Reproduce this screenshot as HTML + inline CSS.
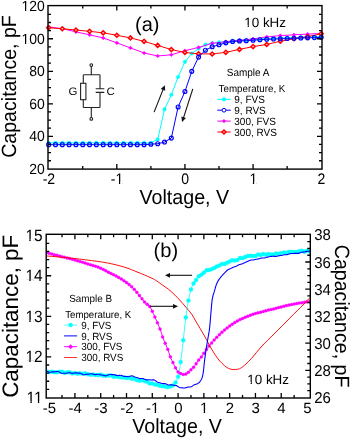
<!DOCTYPE html><html><head><meta charset="utf-8"><style>html,body{margin:0;padding:0;background:#fff;width:350px;height:438px;overflow:hidden}svg{display:block;will-change:transform;text-rendering:geometricPrecision}</style></head><body>
<svg width="350" height="438" viewBox="0 0 350 438" font-family='"Liberation Sans", sans-serif'>
<rect width="350" height="438" fill="#fff"/>
<g clip-path="url(#clipT)">
<defs><clipPath id="clipT"><rect x="45.0" y="2.5999999999999996" width="280.0" height="169.5"/></clipPath><clipPath id="clipB"><rect x="46.2" y="234.3" width="264.1" height="163.7"/></clipPath></defs>
<polyline points="48.67,142.87 55.48,142.87 62.3,142.87 69.11,142.87 75.93,142.87 82.74,142.87 89.55,142.87 96.37,142.87 103.18,142.87 109.99,142.87 116.81,142.87 123.62,142.87 130.44,142.87 137.25,142.87 144.06,142.87 150.88,142.87 157.69,139.42 164.5,109.41 171.32,94.82 178.13,76.94 184.94,61.85 191.76,53.49 198.57,48.57 205.39,44.63 212.2,43.16 219.01,42.34 225.83,42.09 232.64,40.78 239.45,40.29 246.27,39.96 253.08,39.47 259.9,38.97 266.71,38.56 273.52,38.32 280.34,38.07 287.15,37.83 293.96,37.58 300.78,37.33 307.59,37.09 314.41,36.84 321.22,36.6" fill="none" stroke="#00FFFF" stroke-width="1.0" stroke-linejoin="round"/>
<circle cx="48.67" cy="142.87" r="1.8" fill="#00FFFF" stroke="#00FFFF" stroke-width="0.4"/>
<circle cx="55.48" cy="142.87" r="1.8" fill="#00FFFF" stroke="#00FFFF" stroke-width="0.4"/>
<circle cx="62.3" cy="142.87" r="1.8" fill="#00FFFF" stroke="#00FFFF" stroke-width="0.4"/>
<circle cx="69.11" cy="142.87" r="1.8" fill="#00FFFF" stroke="#00FFFF" stroke-width="0.4"/>
<circle cx="75.93" cy="142.87" r="1.8" fill="#00FFFF" stroke="#00FFFF" stroke-width="0.4"/>
<circle cx="82.74" cy="142.87" r="1.8" fill="#00FFFF" stroke="#00FFFF" stroke-width="0.4"/>
<circle cx="89.55" cy="142.87" r="1.8" fill="#00FFFF" stroke="#00FFFF" stroke-width="0.4"/>
<circle cx="96.37" cy="142.87" r="1.8" fill="#00FFFF" stroke="#00FFFF" stroke-width="0.4"/>
<circle cx="103.18" cy="142.87" r="1.8" fill="#00FFFF" stroke="#00FFFF" stroke-width="0.4"/>
<circle cx="109.99" cy="142.87" r="1.8" fill="#00FFFF" stroke="#00FFFF" stroke-width="0.4"/>
<circle cx="116.81" cy="142.87" r="1.8" fill="#00FFFF" stroke="#00FFFF" stroke-width="0.4"/>
<circle cx="123.62" cy="142.87" r="1.8" fill="#00FFFF" stroke="#00FFFF" stroke-width="0.4"/>
<circle cx="130.44" cy="142.87" r="1.8" fill="#00FFFF" stroke="#00FFFF" stroke-width="0.4"/>
<circle cx="137.25" cy="142.87" r="1.8" fill="#00FFFF" stroke="#00FFFF" stroke-width="0.4"/>
<circle cx="144.06" cy="142.87" r="1.8" fill="#00FFFF" stroke="#00FFFF" stroke-width="0.4"/>
<circle cx="150.88" cy="142.87" r="1.8" fill="#00FFFF" stroke="#00FFFF" stroke-width="0.4"/>
<circle cx="157.69" cy="139.42" r="1.8" fill="#00FFFF" stroke="#00FFFF" stroke-width="0.4"/>
<circle cx="164.5" cy="109.41" r="1.8" fill="#00FFFF" stroke="#00FFFF" stroke-width="0.4"/>
<circle cx="171.32" cy="94.82" r="1.8" fill="#00FFFF" stroke="#00FFFF" stroke-width="0.4"/>
<circle cx="178.13" cy="76.94" r="1.8" fill="#00FFFF" stroke="#00FFFF" stroke-width="0.4"/>
<circle cx="184.94" cy="61.85" r="1.8" fill="#00FFFF" stroke="#00FFFF" stroke-width="0.4"/>
<circle cx="191.76" cy="53.49" r="1.8" fill="#00FFFF" stroke="#00FFFF" stroke-width="0.4"/>
<circle cx="198.57" cy="48.57" r="1.8" fill="#00FFFF" stroke="#00FFFF" stroke-width="0.4"/>
<circle cx="205.39" cy="44.63" r="1.8" fill="#00FFFF" stroke="#00FFFF" stroke-width="0.4"/>
<circle cx="212.2" cy="43.16" r="1.8" fill="#00FFFF" stroke="#00FFFF" stroke-width="0.4"/>
<circle cx="219.01" cy="42.34" r="1.8" fill="#00FFFF" stroke="#00FFFF" stroke-width="0.4"/>
<circle cx="225.83" cy="42.09" r="1.8" fill="#00FFFF" stroke="#00FFFF" stroke-width="0.4"/>
<circle cx="232.64" cy="40.78" r="1.8" fill="#00FFFF" stroke="#00FFFF" stroke-width="0.4"/>
<circle cx="239.45" cy="40.29" r="1.8" fill="#00FFFF" stroke="#00FFFF" stroke-width="0.4"/>
<circle cx="246.27" cy="39.96" r="1.8" fill="#00FFFF" stroke="#00FFFF" stroke-width="0.4"/>
<circle cx="253.08" cy="39.47" r="1.8" fill="#00FFFF" stroke="#00FFFF" stroke-width="0.4"/>
<circle cx="259.9" cy="38.97" r="1.8" fill="#00FFFF" stroke="#00FFFF" stroke-width="0.4"/>
<circle cx="266.71" cy="38.56" r="1.8" fill="#00FFFF" stroke="#00FFFF" stroke-width="0.4"/>
<circle cx="273.52" cy="38.32" r="1.8" fill="#00FFFF" stroke="#00FFFF" stroke-width="0.4"/>
<circle cx="280.34" cy="38.07" r="1.8" fill="#00FFFF" stroke="#00FFFF" stroke-width="0.4"/>
<circle cx="287.15" cy="37.83" r="1.8" fill="#00FFFF" stroke="#00FFFF" stroke-width="0.4"/>
<circle cx="293.96" cy="37.58" r="1.8" fill="#00FFFF" stroke="#00FFFF" stroke-width="0.4"/>
<circle cx="300.78" cy="37.33" r="1.8" fill="#00FFFF" stroke="#00FFFF" stroke-width="0.4"/>
<circle cx="307.59" cy="37.09" r="1.8" fill="#00FFFF" stroke="#00FFFF" stroke-width="0.4"/>
<circle cx="314.41" cy="36.84" r="1.8" fill="#00FFFF" stroke="#00FFFF" stroke-width="0.4"/>
<circle cx="321.22" cy="36.6" r="1.8" fill="#00FFFF" stroke="#00FFFF" stroke-width="0.4"/>
<polyline points="48.67,26.92 62.3,28.72 75.93,31.84 89.55,34.79 103.18,37.91 116.81,42.83 130.44,47.91 144.06,53 157.69,55.95 171.32,54.8 184.94,50.7 198.57,47.42 212.2,43.32 225.83,41.68 239.45,40.37 253.08,38.89 266.71,36.92 280.34,35.61 293.96,34.79 307.59,34.14 321.22,33.48" fill="none" stroke="#FF00FF" stroke-width="1.0" stroke-linejoin="round"/>
<path d="M48.67,25.12L50.47,26.92L48.67,28.72L46.87,26.92Z" fill="#FF00FF" stroke="#FF00FF" stroke-width="0.5"/>
<path d="M62.3,26.92L64.1,28.72L62.3,30.52L60.5,28.72Z" fill="#FF00FF" stroke="#FF00FF" stroke-width="0.5"/>
<path d="M75.93,30.04L77.73,31.84L75.93,33.64L74.13,31.84Z" fill="#FF00FF" stroke="#FF00FF" stroke-width="0.5"/>
<path d="M89.55,32.99L91.35,34.79L89.55,36.59L87.75,34.79Z" fill="#FF00FF" stroke="#FF00FF" stroke-width="0.5"/>
<path d="M103.18,36.11L104.98,37.91L103.18,39.71L101.38,37.91Z" fill="#FF00FF" stroke="#FF00FF" stroke-width="0.5"/>
<path d="M116.81,41.03L118.61,42.83L116.81,44.63L115.01,42.83Z" fill="#FF00FF" stroke="#FF00FF" stroke-width="0.5"/>
<path d="M130.44,46.11L132.24,47.91L130.44,49.71L128.64,47.91Z" fill="#FF00FF" stroke="#FF00FF" stroke-width="0.5"/>
<path d="M144.06,51.2L145.86,53L144.06,54.8L142.26,53Z" fill="#FF00FF" stroke="#FF00FF" stroke-width="0.5"/>
<path d="M157.69,54.15L159.49,55.95L157.69,57.75L155.89,55.95Z" fill="#FF00FF" stroke="#FF00FF" stroke-width="0.5"/>
<path d="M171.32,53L173.12,54.8L171.32,56.6L169.52,54.8Z" fill="#FF00FF" stroke="#FF00FF" stroke-width="0.5"/>
<path d="M184.94,48.9L186.75,50.7L184.94,52.5L183.14,50.7Z" fill="#FF00FF" stroke="#FF00FF" stroke-width="0.5"/>
<path d="M198.57,45.62L200.37,47.42L198.57,49.22L196.77,47.42Z" fill="#FF00FF" stroke="#FF00FF" stroke-width="0.5"/>
<path d="M212.2,41.52L214,43.32L212.2,45.12L210.4,43.32Z" fill="#FF00FF" stroke="#FF00FF" stroke-width="0.5"/>
<path d="M225.83,39.88L227.63,41.68L225.83,43.48L224.03,41.68Z" fill="#FF00FF" stroke="#FF00FF" stroke-width="0.5"/>
<path d="M239.45,38.57L241.25,40.37L239.45,42.17L237.65,40.37Z" fill="#FF00FF" stroke="#FF00FF" stroke-width="0.5"/>
<path d="M253.08,37.09L254.88,38.89L253.08,40.69L251.28,38.89Z" fill="#FF00FF" stroke="#FF00FF" stroke-width="0.5"/>
<path d="M266.71,35.12L268.51,36.92L266.71,38.72L264.91,36.92Z" fill="#FF00FF" stroke="#FF00FF" stroke-width="0.5"/>
<path d="M280.34,33.81L282.14,35.61L280.34,37.41L278.54,35.61Z" fill="#FF00FF" stroke="#FF00FF" stroke-width="0.5"/>
<path d="M293.96,32.99L295.76,34.79L293.96,36.59L292.16,34.79Z" fill="#FF00FF" stroke="#FF00FF" stroke-width="0.5"/>
<path d="M307.59,32.34L309.39,34.14L307.59,35.94L305.79,34.14Z" fill="#FF00FF" stroke="#FF00FF" stroke-width="0.5"/>
<path d="M321.22,31.68L323.02,33.48L321.22,35.28L319.42,33.48Z" fill="#FF00FF" stroke="#FF00FF" stroke-width="0.5"/>
<polyline points="48.67,27.74 62.3,28.72 75.93,30.04 89.55,31.35 103.18,32.82 116.81,35.28 130.44,37.91 144.06,41.35 157.69,45.45 171.32,49.55 184.94,52.5 198.57,53.82 212.2,53.98 225.83,52.34 239.45,49.39 253.08,46.6 266.71,44.47 280.34,41.19 293.96,38.73 307.59,36.6 321.22,33.81" fill="none" stroke="#FF0000" stroke-width="1.0" stroke-linejoin="round"/>
<path d="M48.67,25.64L50.77,27.74L48.67,29.84L46.57,27.74Z" fill="#ffb0b0" stroke="#FF0000" stroke-width="1.4"/>
<path d="M62.3,26.62L64.4,28.72L62.3,30.82L60.2,28.72Z" fill="#ffb0b0" stroke="#FF0000" stroke-width="1.4"/>
<path d="M75.93,27.94L78.03,30.04L75.93,32.14L73.83,30.04Z" fill="#ffb0b0" stroke="#FF0000" stroke-width="1.4"/>
<path d="M89.55,29.25L91.65,31.35L89.55,33.45L87.45,31.35Z" fill="#ffb0b0" stroke="#FF0000" stroke-width="1.4"/>
<path d="M103.18,30.72L105.28,32.82L103.18,34.92L101.08,32.82Z" fill="#ffb0b0" stroke="#FF0000" stroke-width="1.4"/>
<path d="M116.81,33.18L118.91,35.28L116.81,37.38L114.71,35.28Z" fill="#ffb0b0" stroke="#FF0000" stroke-width="1.4"/>
<path d="M130.44,35.81L132.54,37.91L130.44,40.01L128.34,37.91Z" fill="#ffb0b0" stroke="#FF0000" stroke-width="1.4"/>
<path d="M144.06,39.25L146.16,41.35L144.06,43.45L141.96,41.35Z" fill="#ffb0b0" stroke="#FF0000" stroke-width="1.4"/>
<path d="M157.69,43.35L159.79,45.45L157.69,47.55L155.59,45.45Z" fill="#ffb0b0" stroke="#FF0000" stroke-width="1.4"/>
<path d="M171.32,47.45L173.42,49.55L171.32,51.65L169.22,49.55Z" fill="#ffb0b0" stroke="#FF0000" stroke-width="1.4"/>
<path d="M184.94,50.4L187.04,52.5L184.94,54.6L182.84,52.5Z" fill="#ffb0b0" stroke="#FF0000" stroke-width="1.4"/>
<path d="M198.57,51.72L200.67,53.82L198.57,55.92L196.47,53.82Z" fill="#ffb0b0" stroke="#FF0000" stroke-width="1.4"/>
<path d="M212.2,51.88L214.3,53.98L212.2,56.08L210.1,53.98Z" fill="#ffb0b0" stroke="#FF0000" stroke-width="1.4"/>
<path d="M225.83,50.24L227.93,52.34L225.83,54.44L223.73,52.34Z" fill="#ffb0b0" stroke="#FF0000" stroke-width="1.4"/>
<path d="M239.45,47.29L241.55,49.39L239.45,51.49L237.35,49.39Z" fill="#ffb0b0" stroke="#FF0000" stroke-width="1.4"/>
<path d="M253.08,44.5L255.18,46.6L253.08,48.7L250.98,46.6Z" fill="#ffb0b0" stroke="#FF0000" stroke-width="1.4"/>
<path d="M266.71,42.37L268.81,44.47L266.71,46.57L264.61,44.47Z" fill="#ffb0b0" stroke="#FF0000" stroke-width="1.4"/>
<path d="M280.34,39.09L282.44,41.19L280.34,43.29L278.24,41.19Z" fill="#ffb0b0" stroke="#FF0000" stroke-width="1.4"/>
<path d="M293.96,36.63L296.06,38.73L293.96,40.83L291.86,38.73Z" fill="#ffb0b0" stroke="#FF0000" stroke-width="1.4"/>
<path d="M307.59,34.5L309.69,36.6L307.59,38.7L305.49,36.6Z" fill="#ffb0b0" stroke="#FF0000" stroke-width="1.4"/>
<path d="M321.22,31.71L323.32,33.81L321.22,35.91L319.12,33.81Z" fill="#ffb0b0" stroke="#FF0000" stroke-width="1.4"/>
<polyline points="48.67,144.67 55.48,144.67 62.3,144.67 69.11,144.67 75.93,144.67 82.74,144.67 89.55,144.67 96.37,144.67 103.18,144.67 109.99,144.67 116.81,144.67 123.62,144.67 130.44,144.67 137.25,144.67 144.06,144.67 150.88,144.18 157.69,143.69 164.5,142.05 171.32,138.11 178.13,106.95 184.94,91.54 191.76,71.36 198.57,57.1 205.39,50.21 212.2,46.76 219.01,44.8 225.83,42.83 232.64,41.52 239.45,41.02 246.27,40.7 253.08,40.2 259.9,39.71 266.71,39.3 273.52,39.06 280.34,38.81 287.15,38.56 293.96,38.32 300.78,38.07 307.59,37.83 314.41,37.58 321.22,37.33" fill="none" stroke="#0000FF" stroke-width="1.0" stroke-linejoin="round"/>
<circle cx="48.67" cy="144.67" r="1.95" fill="none" stroke="#0000FF" stroke-width="1.2"/>
<circle cx="55.48" cy="144.67" r="1.95" fill="none" stroke="#0000FF" stroke-width="1.2"/>
<circle cx="62.3" cy="144.67" r="1.95" fill="none" stroke="#0000FF" stroke-width="1.2"/>
<circle cx="69.11" cy="144.67" r="1.95" fill="none" stroke="#0000FF" stroke-width="1.2"/>
<circle cx="75.93" cy="144.67" r="1.95" fill="none" stroke="#0000FF" stroke-width="1.2"/>
<circle cx="82.74" cy="144.67" r="1.95" fill="none" stroke="#0000FF" stroke-width="1.2"/>
<circle cx="89.55" cy="144.67" r="1.95" fill="none" stroke="#0000FF" stroke-width="1.2"/>
<circle cx="96.37" cy="144.67" r="1.95" fill="none" stroke="#0000FF" stroke-width="1.2"/>
<circle cx="103.18" cy="144.67" r="1.95" fill="none" stroke="#0000FF" stroke-width="1.2"/>
<circle cx="109.99" cy="144.67" r="1.95" fill="none" stroke="#0000FF" stroke-width="1.2"/>
<circle cx="116.81" cy="144.67" r="1.95" fill="none" stroke="#0000FF" stroke-width="1.2"/>
<circle cx="123.62" cy="144.67" r="1.95" fill="none" stroke="#0000FF" stroke-width="1.2"/>
<circle cx="130.44" cy="144.67" r="1.95" fill="none" stroke="#0000FF" stroke-width="1.2"/>
<circle cx="137.25" cy="144.67" r="1.95" fill="none" stroke="#0000FF" stroke-width="1.2"/>
<circle cx="144.06" cy="144.67" r="1.95" fill="none" stroke="#0000FF" stroke-width="1.2"/>
<circle cx="150.88" cy="144.18" r="1.95" fill="none" stroke="#0000FF" stroke-width="1.2"/>
<circle cx="157.69" cy="143.69" r="1.95" fill="none" stroke="#0000FF" stroke-width="1.2"/>
<circle cx="164.5" cy="142.05" r="1.95" fill="none" stroke="#0000FF" stroke-width="1.2"/>
<circle cx="171.32" cy="138.11" r="1.95" fill="none" stroke="#0000FF" stroke-width="1.2"/>
<circle cx="178.13" cy="106.95" r="1.95" fill="none" stroke="#0000FF" stroke-width="1.2"/>
<circle cx="184.94" cy="91.54" r="1.95" fill="none" stroke="#0000FF" stroke-width="1.2"/>
<circle cx="191.76" cy="71.36" r="1.95" fill="none" stroke="#0000FF" stroke-width="1.2"/>
<circle cx="198.57" cy="57.1" r="1.95" fill="none" stroke="#0000FF" stroke-width="1.2"/>
<circle cx="205.39" cy="50.21" r="1.95" fill="none" stroke="#0000FF" stroke-width="1.2"/>
<circle cx="212.2" cy="46.76" r="1.95" fill="none" stroke="#0000FF" stroke-width="1.2"/>
<circle cx="219.01" cy="44.8" r="1.95" fill="none" stroke="#0000FF" stroke-width="1.2"/>
<circle cx="225.83" cy="42.83" r="1.95" fill="none" stroke="#0000FF" stroke-width="1.2"/>
<circle cx="232.64" cy="41.52" r="1.95" fill="none" stroke="#0000FF" stroke-width="1.2"/>
<circle cx="239.45" cy="41.02" r="1.95" fill="none" stroke="#0000FF" stroke-width="1.2"/>
<circle cx="246.27" cy="40.7" r="1.95" fill="none" stroke="#0000FF" stroke-width="1.2"/>
<circle cx="253.08" cy="40.2" r="1.95" fill="none" stroke="#0000FF" stroke-width="1.2"/>
<circle cx="259.9" cy="39.71" r="1.95" fill="none" stroke="#0000FF" stroke-width="1.2"/>
<circle cx="266.71" cy="39.3" r="1.95" fill="none" stroke="#0000FF" stroke-width="1.2"/>
<circle cx="273.52" cy="39.06" r="1.95" fill="none" stroke="#0000FF" stroke-width="1.2"/>
<circle cx="280.34" cy="38.81" r="1.95" fill="none" stroke="#0000FF" stroke-width="1.2"/>
<circle cx="287.15" cy="38.56" r="1.95" fill="none" stroke="#0000FF" stroke-width="1.2"/>
<circle cx="293.96" cy="38.32" r="1.95" fill="none" stroke="#0000FF" stroke-width="1.2"/>
<circle cx="300.78" cy="38.07" r="1.95" fill="none" stroke="#0000FF" stroke-width="1.2"/>
<circle cx="307.59" cy="37.83" r="1.95" fill="none" stroke="#0000FF" stroke-width="1.2"/>
<circle cx="314.41" cy="37.58" r="1.95" fill="none" stroke="#0000FF" stroke-width="1.2"/>
<circle cx="321.22" cy="37.33" r="1.95" fill="none" stroke="#0000FF" stroke-width="1.2"/>
</g>
<rect x="48" y="5.6" width="274" height="163.5" fill="none" stroke="#000" stroke-width="1.4"/>
<path d="M82.74,169.1v-3 M82.74,5.6v3 M116.81,169.1v-5 M116.81,5.6v5 M150.88,169.1v-3 M150.88,5.6v3 M184.94,169.1v-5 M184.94,5.6v5 M219.01,169.1v-3 M219.01,5.6v3 M253.08,169.1v-5 M253.08,5.6v5 M287.15,169.1v-3 M287.15,5.6v3 M48,160.73h3 M322,160.73h-3 M48,152.6h3 M322,152.6h-3 M48,144.46h3 M322,144.46h-3 M48,136.33h5 M322,136.33h-5 M48,128.2h3 M322,128.2h-3 M48,120.07h3 M322,120.07h-3 M48,111.94h3 M322,111.94h-3 M48,103.8h5 M322,103.8h-5 M48,95.67h3 M322,95.67h-3 M48,87.54h3 M322,87.54h-3 M48,79.41h3 M322,79.41h-3 M48,71.28h5 M322,71.28h-5 M48,63.14h3 M322,63.14h-3 M48,55.01h3 M322,55.01h-3 M48,46.88h3 M322,46.88h-3 M48,38.75h5 M322,38.75h-5 M48,30.62h3 M322,30.62h-3 M48,22.48h3 M322,22.48h-3 M48,14.35h3 M322,14.35h-3" stroke="#000" stroke-width="1.3" fill="none"/>
<text transform="translate(44.8,173.76) scale(0.95,1)" font-size="14.7" text-anchor="end">20</text>
<text transform="translate(44.8,141.23) scale(0.95,1)" font-size="14.7" text-anchor="end">40</text>
<text transform="translate(44.8,108.7) scale(0.95,1)" font-size="14.7" text-anchor="end">60</text>
<text transform="translate(44.8,76.18) scale(0.95,1)" font-size="14.7" text-anchor="end">80</text>
<g transform="translate(44.8,43.65) scale(0.95,1)"><text font-size="14.7" text-anchor="end">100</text><path d="M-24.38,-1.65H-20.85V1.6H-24.38ZM-19.53,-1.65H-16.77V1.6H-19.53Z" fill="#fff"/></g>
<g transform="translate(44.8,11.12) scale(0.95,1)"><text font-size="14.7" text-anchor="end">120</text><path d="M-24.38,-1.65H-20.85V1.6H-24.38ZM-19.53,-1.65H-16.77V1.6H-19.53Z" fill="#fff"/></g>
<text transform="translate(48.87,183.6) scale(0.92,1)" font-size="15.26" text-anchor="middle">-2</text>
<g transform="translate(117.01,183.6) scale(0.92,1)"><text font-size="15.26" text-anchor="middle">-1</text><path d="M-1.55,-1.69H2.11V1.6H-1.55ZM3.48,-1.69H6.34V1.6H3.48Z" fill="#fff"/></g>
<text transform="translate(185.14,183.6) scale(0.92,1)" font-size="15.26" text-anchor="middle">0</text>
<g transform="translate(253.28,183.6) scale(0.92,1)"><text font-size="15.26" text-anchor="middle">1</text><path d="M-4.09,-1.69H-0.43V1.6H-4.09ZM0.94,-1.69H3.8V1.6H0.94Z" fill="#fff"/></g>
<text transform="translate(321.42,183.6) scale(0.92,1)" font-size="15.26" text-anchor="middle">2</text>
<text transform="translate(184.3,203.9) scale(0.96,1)" font-size="20.49" text-anchor="middle">Voltage, V</text>
<text transform="translate(15.7,86.5) rotate(-90) scale(0.951,1)" font-size="20.6" text-anchor="middle">Capacitance, pF</text>
<text transform="translate(135,30.5) scale(1,1)" font-size="20" text-anchor="start">(a)</text>
<g transform="translate(244.3,26.6) scale(1,1)"><text font-size="13.4" text-anchor="start">10 kHz</text><path d="M0.13,-1.55H3.35V1.6H0.13ZM4.55,-1.55H7.07V1.6H4.55Z" fill="#fff"/></g>
<text transform="translate(226.8,75.5) scale(0.95,1)" font-size="10.5" text-anchor="start">Sample A</text>
<text transform="translate(218.6,92) scale(0.95,1)" font-size="10.29" text-anchor="start">Temperature, K</text>
<line x1="217.3" y1="99.3" x2="230.8" y2="99.3" stroke="#00FFFF" stroke-width="1"/>
<circle cx="224" cy="99.3" r="1.9" fill="#00FFFF" stroke="#00FFFF" stroke-width="0.4"/>
<text transform="translate(234.3,103.2) scale(0.95,1)" font-size="10.5" text-anchor="start">9, FVS</text>
<line x1="217.3" y1="110.2" x2="230.8" y2="110.2" stroke="#0000FF" stroke-width="1"/>
<circle cx="224" cy="110.2" r="1.9" fill="#fff" stroke="#0000FF" stroke-width="1.0"/>
<text transform="translate(234.3,114.1) scale(0.95,1)" font-size="10.5" text-anchor="start">9, RVS</text>
<line x1="217.3" y1="121.1" x2="230.8" y2="121.1" stroke="#FF00FF" stroke-width="1"/>
<path d="M224,119.3L225.8,121.1L224,122.9L222.2,121.1Z" fill="#FF00FF" stroke="#FF00FF" stroke-width="0.4"/>
<text transform="translate(234.3,125) scale(0.95,1)" font-size="10.5" text-anchor="start">300, FVS</text>
<line x1="217.3" y1="132" x2="230.8" y2="132" stroke="#FF0000" stroke-width="1"/>
<path d="M224,129.9L226.1,132L224,134.1L221.9,132Z" fill="#ffb0b0" stroke="#FF0000" stroke-width="1.4"/>
<text transform="translate(234.3,135.9) scale(0.95,1)" font-size="10.5" text-anchor="start">300, RVS</text>
<g stroke="#222" stroke-width="1.1" fill="none">
<circle cx="91.3" cy="65.1" r="1.35" fill="#fff"/>
<path d="M91.3,66.5V74.8M83.3,74.8H100M83.3,74.8V83.3M83.3,99.7V107.5M83.3,107.5H100M100,74.8V88.8M100,92.4V107.5M91.3,107.5V117.5M95.7,88.8H104.3M95.7,92.4H104.3"/>
<rect x="80.6" y="83.3" width="5.3" height="16.4"/>
<circle cx="91.3" cy="118.9" r="1.35" fill="#fff"/>
</g>
<text transform="translate(68.6,95) scale(1.05,1)" font-size="10.92" text-anchor="start">G</text>
<text transform="translate(106.4,95) scale(1.05,1)" font-size="10.92" text-anchor="start">C</text>
<line x1="154.1" y1="112.1" x2="163.14" y2="89.38" stroke="#111" stroke-width="1.1"/>
<path d="M164.8,85.2L165.18,90.73L160.72,88.96Z" fill="#111"/>
<line x1="192.8" y1="88.8" x2="183.48" y2="117.82" stroke="#111" stroke-width="1.1"/>
<path d="M182.1,122.1L181.34,116.61L185.91,118.07Z" fill="#111"/>
<g clip-path="url(#clipB)">
<path d="M47,371.8 C49.17,371.88 55.33,372.1 60,372.3 C64.67,372.5 70,372.68 75,373 C80,373.32 84.17,373.7 90,374.2 C95.83,374.7 103.33,375.37 110,376 C116.67,376.63 123.33,376.83 130,378 C136.67,379.17 145,381.7 150,383 C155,384.3 157.5,385.2 160,385.8 C162.5,386.4 163.33,386.47 165,386.6 C166.67,386.73 168.33,387.23 170,386.6 C171.67,385.97 173.65,384.47 175,382.8 C176.35,381.13 177.15,380.13 178.1,376.6 C179.05,373.07 179.85,367.6 180.7,361.6 C181.55,355.6 182.35,347.93 183.2,340.6 C184.05,333.27 184.93,324.28 185.8,317.6 C186.67,310.92 187.55,305.15 188.4,300.5 C189.25,295.85 190.03,292.57 190.9,289.7 C191.77,286.83 192.67,285.12 193.6,283.3 C194.53,281.48 195.6,280.08 196.5,278.8 C197.4,277.52 197.92,276.57 199,275.6 C200.08,274.63 201.5,273.93 203,273 C204.5,272.07 206.17,270.9 208,270 C209.83,269.1 212,268.43 214,267.6 C216,266.77 218,265.77 220,265 C222,264.23 224,263.67 226,263 C228,262.33 229.67,261.75 232,261 C234.33,260.25 237.33,259.25 240,258.5 C242.67,257.75 244.57,257.12 248,256.5 C251.43,255.88 255.07,255.35 260.6,254.8 C266.13,254.25 274.35,253.75 281.2,253.2 C288.05,252.65 296.9,251.88 301.7,251.5 C306.5,251.12 308.62,251 310,250.9" fill="none" stroke="#00FFFF" stroke-width="0.8"/>
<circle cx="46.56" cy="371.43" r="2" fill="#00FFFF" stroke="#00FFFF" stroke-width="0.3"/>
<circle cx="49.14" cy="371.94" r="2" fill="#00FFFF" stroke="#00FFFF" stroke-width="0.3"/>
<circle cx="51.72" cy="371.79" r="2" fill="#00FFFF" stroke="#00FFFF" stroke-width="0.3"/>
<circle cx="54.3" cy="372.22" r="2" fill="#00FFFF" stroke="#00FFFF" stroke-width="0.3"/>
<circle cx="56.88" cy="372.35" r="2" fill="#00FFFF" stroke="#00FFFF" stroke-width="0.3"/>
<circle cx="59.46" cy="371.67" r="2" fill="#00FFFF" stroke="#00FFFF" stroke-width="0.3"/>
<circle cx="62.03" cy="371.7" r="2" fill="#00FFFF" stroke="#00FFFF" stroke-width="0.3"/>
<circle cx="64.61" cy="372.96" r="2" fill="#00FFFF" stroke="#00FFFF" stroke-width="0.3"/>
<circle cx="67.19" cy="372.26" r="2" fill="#00FFFF" stroke="#00FFFF" stroke-width="0.3"/>
<circle cx="69.77" cy="372.34" r="2" fill="#00FFFF" stroke="#00FFFF" stroke-width="0.3"/>
<circle cx="72.35" cy="373.54" r="2" fill="#00FFFF" stroke="#00FFFF" stroke-width="0.3"/>
<circle cx="74.93" cy="372.95" r="2" fill="#00FFFF" stroke="#00FFFF" stroke-width="0.3"/>
<circle cx="77.51" cy="373.64" r="2" fill="#00FFFF" stroke="#00FFFF" stroke-width="0.3"/>
<circle cx="80.09" cy="373.33" r="2" fill="#00FFFF" stroke="#00FFFF" stroke-width="0.3"/>
<circle cx="82.67" cy="373.77" r="2" fill="#00FFFF" stroke="#00FFFF" stroke-width="0.3"/>
<circle cx="85.24" cy="373.3" r="2" fill="#00FFFF" stroke="#00FFFF" stroke-width="0.3"/>
<circle cx="87.82" cy="374.2" r="2" fill="#00FFFF" stroke="#00FFFF" stroke-width="0.3"/>
<circle cx="90.4" cy="374.75" r="2" fill="#00FFFF" stroke="#00FFFF" stroke-width="0.3"/>
<circle cx="92.98" cy="374.49" r="2" fill="#00FFFF" stroke="#00FFFF" stroke-width="0.3"/>
<circle cx="95.56" cy="375.02" r="2" fill="#00FFFF" stroke="#00FFFF" stroke-width="0.3"/>
<circle cx="98.14" cy="375.15" r="2" fill="#00FFFF" stroke="#00FFFF" stroke-width="0.3"/>
<circle cx="100.72" cy="374.53" r="2" fill="#00FFFF" stroke="#00FFFF" stroke-width="0.3"/>
<circle cx="103.3" cy="375.74" r="2" fill="#00FFFF" stroke="#00FFFF" stroke-width="0.3"/>
<circle cx="105.87" cy="375.74" r="2" fill="#00FFFF" stroke="#00FFFF" stroke-width="0.3"/>
<circle cx="108.45" cy="375.58" r="2" fill="#00FFFF" stroke="#00FFFF" stroke-width="0.3"/>
<circle cx="111.03" cy="375.44" r="2" fill="#00FFFF" stroke="#00FFFF" stroke-width="0.3"/>
<circle cx="113.61" cy="376.82" r="2" fill="#00FFFF" stroke="#00FFFF" stroke-width="0.3"/>
<circle cx="116.19" cy="376.47" r="2" fill="#00FFFF" stroke="#00FFFF" stroke-width="0.3"/>
<circle cx="118.77" cy="377.01" r="2" fill="#00FFFF" stroke="#00FFFF" stroke-width="0.3"/>
<circle cx="121.35" cy="377.45" r="2" fill="#00FFFF" stroke="#00FFFF" stroke-width="0.3"/>
<circle cx="123.93" cy="377.47" r="2" fill="#00FFFF" stroke="#00FFFF" stroke-width="0.3"/>
<circle cx="126.5" cy="378.06" r="2" fill="#00FFFF" stroke="#00FFFF" stroke-width="0.3"/>
<circle cx="129.08" cy="377.7" r="2" fill="#00FFFF" stroke="#00FFFF" stroke-width="0.3"/>
<circle cx="131.66" cy="378.73" r="2" fill="#00FFFF" stroke="#00FFFF" stroke-width="0.3"/>
<circle cx="134.24" cy="378.78" r="2" fill="#00FFFF" stroke="#00FFFF" stroke-width="0.3"/>
<circle cx="136.82" cy="380.08" r="2" fill="#00FFFF" stroke="#00FFFF" stroke-width="0.3"/>
<circle cx="139.4" cy="380.66" r="2" fill="#00FFFF" stroke="#00FFFF" stroke-width="0.3"/>
<circle cx="141.98" cy="380.25" r="2" fill="#00FFFF" stroke="#00FFFF" stroke-width="0.3"/>
<circle cx="144.56" cy="381.01" r="2" fill="#00FFFF" stroke="#00FFFF" stroke-width="0.3"/>
<circle cx="147.14" cy="381.83" r="2" fill="#00FFFF" stroke="#00FFFF" stroke-width="0.3"/>
<circle cx="149.71" cy="383.58" r="2" fill="#00FFFF" stroke="#00FFFF" stroke-width="0.3"/>
<circle cx="152.29" cy="383.53" r="2" fill="#00FFFF" stroke="#00FFFF" stroke-width="0.3"/>
<circle cx="154.87" cy="384.53" r="2" fill="#00FFFF" stroke="#00FFFF" stroke-width="0.3"/>
<circle cx="157.45" cy="384.83" r="2" fill="#00FFFF" stroke="#00FFFF" stroke-width="0.3"/>
<circle cx="160.03" cy="385.82" r="2" fill="#00FFFF" stroke="#00FFFF" stroke-width="0.3"/>
<circle cx="162.61" cy="386.18" r="2" fill="#00FFFF" stroke="#00FFFF" stroke-width="0.3"/>
<circle cx="165.19" cy="386.41" r="2" fill="#00FFFF" stroke="#00FFFF" stroke-width="0.3"/>
<circle cx="167.77" cy="387.02" r="2" fill="#00FFFF" stroke="#00FFFF" stroke-width="0.3"/>
<circle cx="170.34" cy="386.58" r="2" fill="#00FFFF" stroke="#00FFFF" stroke-width="0.3"/>
<circle cx="172.92" cy="385.41" r="2" fill="#00FFFF" stroke="#00FFFF" stroke-width="0.3"/>
<circle cx="175.5" cy="382.43" r="2" fill="#00FFFF" stroke="#00FFFF" stroke-width="0.3"/>
<circle cx="178.08" cy="376.67" r="2" fill="#00FFFF" stroke="#00FFFF" stroke-width="0.3"/>
<circle cx="180.66" cy="361.88" r="2" fill="#00FFFF" stroke="#00FFFF" stroke-width="0.3"/>
<circle cx="183.24" cy="340.26" r="2" fill="#00FFFF" stroke="#00FFFF" stroke-width="0.3"/>
<circle cx="185.82" cy="317.47" r="2" fill="#00FFFF" stroke="#00FFFF" stroke-width="0.3"/>
<circle cx="188.4" cy="300.52" r="2" fill="#00FFFF" stroke="#00FFFF" stroke-width="0.3"/>
<circle cx="190.97" cy="289.46" r="2" fill="#00FFFF" stroke="#00FFFF" stroke-width="0.3"/>
<circle cx="193.55" cy="283.39" r="2" fill="#00FFFF" stroke="#00FFFF" stroke-width="0.3"/>
<circle cx="196.13" cy="279.92" r="2" fill="#00FFFF" stroke="#00FFFF" stroke-width="0.3"/>
<circle cx="198.71" cy="276.37" r="2" fill="#00FFFF" stroke="#00FFFF" stroke-width="0.3"/>
<circle cx="201.29" cy="274.71" r="2" fill="#00FFFF" stroke="#00FFFF" stroke-width="0.3"/>
<circle cx="203.87" cy="272.69" r="2" fill="#00FFFF" stroke="#00FFFF" stroke-width="0.3"/>
<circle cx="206.45" cy="270.37" r="2" fill="#00FFFF" stroke="#00FFFF" stroke-width="0.3"/>
<circle cx="209.03" cy="270.04" r="2" fill="#00FFFF" stroke="#00FFFF" stroke-width="0.3"/>
<circle cx="211.61" cy="269.18" r="2" fill="#00FFFF" stroke="#00FFFF" stroke-width="0.3"/>
<circle cx="214.18" cy="268.09" r="2" fill="#00FFFF" stroke="#00FFFF" stroke-width="0.3"/>
<circle cx="216.76" cy="266.48" r="2" fill="#00FFFF" stroke="#00FFFF" stroke-width="0.3"/>
<circle cx="219.34" cy="265.56" r="2" fill="#00FFFF" stroke="#00FFFF" stroke-width="0.3"/>
<circle cx="221.92" cy="263.91" r="2" fill="#00FFFF" stroke="#00FFFF" stroke-width="0.3"/>
<circle cx="224.5" cy="263.95" r="2" fill="#00FFFF" stroke="#00FFFF" stroke-width="0.3"/>
<circle cx="227.08" cy="262.74" r="2" fill="#00FFFF" stroke="#00FFFF" stroke-width="0.3"/>
<circle cx="229.66" cy="261.47" r="2" fill="#00FFFF" stroke="#00FFFF" stroke-width="0.3"/>
<circle cx="232.24" cy="260.31" r="2" fill="#00FFFF" stroke="#00FFFF" stroke-width="0.3"/>
<circle cx="234.81" cy="260.59" r="2" fill="#00FFFF" stroke="#00FFFF" stroke-width="0.3"/>
<circle cx="237.39" cy="259.96" r="2" fill="#00FFFF" stroke="#00FFFF" stroke-width="0.3"/>
<circle cx="239.97" cy="257.93" r="2" fill="#00FFFF" stroke="#00FFFF" stroke-width="0.3"/>
<circle cx="242.55" cy="258.19" r="2" fill="#00FFFF" stroke="#00FFFF" stroke-width="0.3"/>
<circle cx="245.13" cy="256.97" r="2" fill="#00FFFF" stroke="#00FFFF" stroke-width="0.3"/>
<circle cx="247.71" cy="256.06" r="2" fill="#00FFFF" stroke="#00FFFF" stroke-width="0.3"/>
<circle cx="250.29" cy="255.82" r="2" fill="#00FFFF" stroke="#00FFFF" stroke-width="0.3"/>
<circle cx="252.87" cy="256.09" r="2" fill="#00FFFF" stroke="#00FFFF" stroke-width="0.3"/>
<circle cx="255.44" cy="255.89" r="2" fill="#00FFFF" stroke="#00FFFF" stroke-width="0.3"/>
<circle cx="258.02" cy="254.43" r="2" fill="#00FFFF" stroke="#00FFFF" stroke-width="0.3"/>
<circle cx="260.6" cy="254.96" r="2" fill="#00FFFF" stroke="#00FFFF" stroke-width="0.3"/>
<circle cx="263.18" cy="253.93" r="2" fill="#00FFFF" stroke="#00FFFF" stroke-width="0.3"/>
<circle cx="265.76" cy="254.66" r="2" fill="#00FFFF" stroke="#00FFFF" stroke-width="0.3"/>
<circle cx="268.34" cy="253.92" r="2" fill="#00FFFF" stroke="#00FFFF" stroke-width="0.3"/>
<circle cx="270.92" cy="254.5" r="2" fill="#00FFFF" stroke="#00FFFF" stroke-width="0.3"/>
<circle cx="273.5" cy="254.45" r="2" fill="#00FFFF" stroke="#00FFFF" stroke-width="0.3"/>
<circle cx="276.08" cy="253.6" r="2" fill="#00FFFF" stroke="#00FFFF" stroke-width="0.3"/>
<circle cx="278.65" cy="254.1" r="2" fill="#00FFFF" stroke="#00FFFF" stroke-width="0.3"/>
<circle cx="281.23" cy="252.93" r="2" fill="#00FFFF" stroke="#00FFFF" stroke-width="0.3"/>
<circle cx="283.81" cy="252.4" r="2" fill="#00FFFF" stroke="#00FFFF" stroke-width="0.3"/>
<circle cx="286.39" cy="252.91" r="2" fill="#00FFFF" stroke="#00FFFF" stroke-width="0.3"/>
<circle cx="288.97" cy="251.9" r="2" fill="#00FFFF" stroke="#00FFFF" stroke-width="0.3"/>
<circle cx="291.55" cy="251.92" r="2" fill="#00FFFF" stroke="#00FFFF" stroke-width="0.3"/>
<circle cx="294.13" cy="252" r="2" fill="#00FFFF" stroke="#00FFFF" stroke-width="0.3"/>
<circle cx="296.71" cy="252.07" r="2" fill="#00FFFF" stroke="#00FFFF" stroke-width="0.3"/>
<circle cx="299.28" cy="251.22" r="2" fill="#00FFFF" stroke="#00FFFF" stroke-width="0.3"/>
<circle cx="301.86" cy="250.85" r="2" fill="#00FFFF" stroke="#00FFFF" stroke-width="0.3"/>
<circle cx="304.44" cy="251.8" r="2" fill="#00FFFF" stroke="#00FFFF" stroke-width="0.3"/>
<circle cx="307.02" cy="250.84" r="2" fill="#00FFFF" stroke="#00FFFF" stroke-width="0.3"/>
<circle cx="309.6" cy="251.57" r="2" fill="#00FFFF" stroke="#00FFFF" stroke-width="0.3"/>
<path d="M47,252.6 C48.88,253.12 54.03,254.58 58.3,255.7 C62.57,256.82 67.83,257.98 72.6,259.3 C77.37,260.62 82.57,262.27 86.9,263.6 C91.23,264.93 95.23,265.98 98.6,267.3 C101.97,268.62 104.25,270.08 107.1,271.5 C109.95,272.92 112.83,274.23 115.7,275.8 C118.57,277.37 121.43,278.88 124.3,280.9 C127.17,282.92 130.33,285.42 132.9,287.9 C135.47,290.38 137.7,293.4 139.7,295.8 C141.7,298.2 143.18,300.45 144.9,302.3 C146.62,304.15 148.58,305.02 150,306.9 C151.42,308.78 152.25,311.15 153.4,313.6 C154.55,316.05 155.75,318.93 156.9,321.6 C158.05,324.27 159.28,326.87 160.3,329.6 C161.32,332.33 162.05,335.43 163,338 C163.95,340.57 165.17,343 166,345 C166.83,347 167.27,348 168,350 C168.73,352 169.52,354.78 170.4,357 C171.28,359.22 172.43,361.47 173.3,363.3 C174.17,365.13 174.8,366.57 175.6,368 C176.4,369.43 177.25,370.97 178.1,371.9 C178.95,372.83 179.83,373.18 180.7,373.6 C181.57,374.02 182.43,374.33 183.3,374.4 C184.17,374.47 185.05,374.35 185.9,374 C186.75,373.65 187.55,373.02 188.4,372.3 C189.25,371.58 190.13,370.57 191,369.7 C191.87,368.83 192.75,368.1 193.6,367.1 C194.45,366.1 195.25,364.9 196.1,363.7 C196.95,362.5 197.72,361.18 198.7,359.9 C199.68,358.62 200.87,357.52 202,356 C203.13,354.48 204.35,352.45 205.5,350.8 C206.65,349.15 207.6,347.73 208.9,346.1 C210.2,344.47 211.83,342.63 213.3,341 C214.77,339.37 216.22,337.78 217.7,336.3 C219.18,334.82 220.72,333.43 222.2,332.1 C223.68,330.77 225.13,329.48 226.6,328.3 C228.07,327.12 229.53,326.03 231,325 C232.47,323.97 233.93,322.98 235.4,322.1 C236.87,321.22 238.32,320.43 239.8,319.7 C241.28,318.97 242.82,318.35 244.3,317.7 C245.78,317.05 247.23,316.38 248.7,315.8 C250.17,315.22 251.7,314.67 253.1,314.2 C254.5,313.73 255.77,313.37 257.1,313 C258.43,312.63 259.28,312.47 261.1,312 C262.92,311.53 265.7,310.77 268,310.2 C270.3,309.63 272.52,309.2 274.9,308.6 C277.28,308 279.83,307.22 282.3,306.6 C284.77,305.98 287.23,305.42 289.7,304.9 C292.17,304.38 294.62,303.95 297.1,303.5 C299.58,303.05 302.45,302.53 304.6,302.2 C306.75,301.87 309.1,301.62 310,301.5" fill="none" stroke="#FF00FF" stroke-width="1"/>
<circle cx="46.56" cy="252.6" r="1.5" fill="#FF00FF" stroke="#FF00FF" stroke-width="0.3"/>
<circle cx="49.14" cy="253.2" r="1.5" fill="#FF00FF" stroke="#FF00FF" stroke-width="0.3"/>
<circle cx="51.72" cy="253.91" r="1.5" fill="#FF00FF" stroke="#FF00FF" stroke-width="0.3"/>
<circle cx="54.3" cy="254.63" r="1.5" fill="#FF00FF" stroke="#FF00FF" stroke-width="0.3"/>
<circle cx="56.88" cy="255.32" r="1.5" fill="#FF00FF" stroke="#FF00FF" stroke-width="0.3"/>
<circle cx="59.46" cy="256" r="1.5" fill="#FF00FF" stroke="#FF00FF" stroke-width="0.3"/>
<circle cx="62.03" cy="256.64" r="1.5" fill="#FF00FF" stroke="#FF00FF" stroke-width="0.3"/>
<circle cx="64.61" cy="257.27" r="1.5" fill="#FF00FF" stroke="#FF00FF" stroke-width="0.3"/>
<circle cx="67.19" cy="257.9" r="1.5" fill="#FF00FF" stroke="#FF00FF" stroke-width="0.3"/>
<circle cx="69.77" cy="258.55" r="1.5" fill="#FF00FF" stroke="#FF00FF" stroke-width="0.3"/>
<circle cx="72.35" cy="259.23" r="1.5" fill="#FF00FF" stroke="#FF00FF" stroke-width="0.3"/>
<circle cx="74.93" cy="259.96" r="1.5" fill="#FF00FF" stroke="#FF00FF" stroke-width="0.3"/>
<circle cx="77.51" cy="260.72" r="1.5" fill="#FF00FF" stroke="#FF00FF" stroke-width="0.3"/>
<circle cx="80.09" cy="261.5" r="1.5" fill="#FF00FF" stroke="#FF00FF" stroke-width="0.3"/>
<circle cx="82.67" cy="262.29" r="1.5" fill="#FF00FF" stroke="#FF00FF" stroke-width="0.3"/>
<circle cx="85.24" cy="263.09" r="1.5" fill="#FF00FF" stroke="#FF00FF" stroke-width="0.3"/>
<circle cx="87.82" cy="263.88" r="1.5" fill="#FF00FF" stroke="#FF00FF" stroke-width="0.3"/>
<circle cx="90.4" cy="264.65" r="1.5" fill="#FF00FF" stroke="#FF00FF" stroke-width="0.3"/>
<circle cx="92.98" cy="265.42" r="1.5" fill="#FF00FF" stroke="#FF00FF" stroke-width="0.3"/>
<circle cx="95.56" cy="266.22" r="1.5" fill="#FF00FF" stroke="#FF00FF" stroke-width="0.3"/>
<circle cx="98.14" cy="267.12" r="1.5" fill="#FF00FF" stroke="#FF00FF" stroke-width="0.3"/>
<circle cx="100.72" cy="268.21" r="1.5" fill="#FF00FF" stroke="#FF00FF" stroke-width="0.3"/>
<circle cx="103.3" cy="269.5" r="1.5" fill="#FF00FF" stroke="#FF00FF" stroke-width="0.3"/>
<circle cx="105.87" cy="270.87" r="1.5" fill="#FF00FF" stroke="#FF00FF" stroke-width="0.3"/>
<circle cx="108.45" cy="272.17" r="1.5" fill="#FF00FF" stroke="#FF00FF" stroke-width="0.3"/>
<circle cx="111.03" cy="273.42" r="1.5" fill="#FF00FF" stroke="#FF00FF" stroke-width="0.3"/>
<circle cx="113.61" cy="274.7" r="1.5" fill="#FF00FF" stroke="#FF00FF" stroke-width="0.3"/>
<circle cx="116.19" cy="276.07" r="1.5" fill="#FF00FF" stroke="#FF00FF" stroke-width="0.3"/>
<circle cx="118.77" cy="277.48" r="1.5" fill="#FF00FF" stroke="#FF00FF" stroke-width="0.3"/>
<circle cx="121.35" cy="278.98" r="1.5" fill="#FF00FF" stroke="#FF00FF" stroke-width="0.3"/>
<circle cx="123.93" cy="280.64" r="1.5" fill="#FF00FF" stroke="#FF00FF" stroke-width="0.3"/>
<circle cx="126.5" cy="282.51" r="1.5" fill="#FF00FF" stroke="#FF00FF" stroke-width="0.3"/>
<circle cx="129.08" cy="284.53" r="1.5" fill="#FF00FF" stroke="#FF00FF" stroke-width="0.3"/>
<circle cx="131.66" cy="286.74" r="1.5" fill="#FF00FF" stroke="#FF00FF" stroke-width="0.3"/>
<circle cx="134.24" cy="289.27" r="1.5" fill="#FF00FF" stroke="#FF00FF" stroke-width="0.3"/>
<circle cx="136.82" cy="292.26" r="1.5" fill="#FF00FF" stroke="#FF00FF" stroke-width="0.3"/>
<circle cx="139.4" cy="295.44" r="1.5" fill="#FF00FF" stroke="#FF00FF" stroke-width="0.3"/>
<circle cx="141.98" cy="298.69" r="1.5" fill="#FF00FF" stroke="#FF00FF" stroke-width="0.3"/>
<circle cx="144.56" cy="301.92" r="1.5" fill="#FF00FF" stroke="#FF00FF" stroke-width="0.3"/>
<circle cx="147.14" cy="304.26" r="1.5" fill="#FF00FF" stroke="#FF00FF" stroke-width="0.3"/>
<circle cx="149.71" cy="306.54" r="1.5" fill="#FF00FF" stroke="#FF00FF" stroke-width="0.3"/>
<circle cx="152.29" cy="311.13" r="1.5" fill="#FF00FF" stroke="#FF00FF" stroke-width="0.3"/>
<circle cx="154.87" cy="316.88" r="1.5" fill="#FF00FF" stroke="#FF00FF" stroke-width="0.3"/>
<circle cx="157.45" cy="322.86" r="1.5" fill="#FF00FF" stroke="#FF00FF" stroke-width="0.3"/>
<circle cx="160.03" cy="328.89" r="1.5" fill="#FF00FF" stroke="#FF00FF" stroke-width="0.3"/>
<circle cx="162.61" cy="336.88" r="1.5" fill="#FF00FF" stroke="#FF00FF" stroke-width="0.3"/>
<circle cx="165.19" cy="343.14" r="1.5" fill="#FF00FF" stroke="#FF00FF" stroke-width="0.3"/>
<circle cx="167.77" cy="349.37" r="1.5" fill="#FF00FF" stroke="#FF00FF" stroke-width="0.3"/>
<circle cx="170.34" cy="356.86" r="1.5" fill="#FF00FF" stroke="#FF00FF" stroke-width="0.3"/>
<circle cx="172.92" cy="362.51" r="1.5" fill="#FF00FF" stroke="#FF00FF" stroke-width="0.3"/>
<circle cx="175.5" cy="367.82" r="1.5" fill="#FF00FF" stroke="#FF00FF" stroke-width="0.3"/>
<circle cx="178.08" cy="371.88" r="1.5" fill="#FF00FF" stroke="#FF00FF" stroke-width="0.3"/>
<circle cx="180.66" cy="373.58" r="1.5" fill="#FF00FF" stroke="#FF00FF" stroke-width="0.3"/>
<circle cx="183.24" cy="374.39" r="1.5" fill="#FF00FF" stroke="#FF00FF" stroke-width="0.3"/>
<circle cx="185.82" cy="374.03" r="1.5" fill="#FF00FF" stroke="#FF00FF" stroke-width="0.3"/>
<circle cx="188.4" cy="372.3" r="1.5" fill="#FF00FF" stroke="#FF00FF" stroke-width="0.3"/>
<circle cx="190.97" cy="369.73" r="1.5" fill="#FF00FF" stroke="#FF00FF" stroke-width="0.3"/>
<circle cx="193.55" cy="367.15" r="1.5" fill="#FF00FF" stroke="#FF00FF" stroke-width="0.3"/>
<circle cx="196.13" cy="363.65" r="1.5" fill="#FF00FF" stroke="#FF00FF" stroke-width="0.3"/>
<circle cx="198.71" cy="359.89" r="1.5" fill="#FF00FF" stroke="#FF00FF" stroke-width="0.3"/>
<circle cx="201.29" cy="356.9" r="1.5" fill="#FF00FF" stroke="#FF00FF" stroke-width="0.3"/>
<circle cx="203.87" cy="353.26" r="1.5" fill="#FF00FF" stroke="#FF00FF" stroke-width="0.3"/>
<circle cx="206.45" cy="349.43" r="1.5" fill="#FF00FF" stroke="#FF00FF" stroke-width="0.3"/>
<circle cx="209.03" cy="345.94" r="1.5" fill="#FF00FF" stroke="#FF00FF" stroke-width="0.3"/>
<circle cx="211.61" cy="342.9" r="1.5" fill="#FF00FF" stroke="#FF00FF" stroke-width="0.3"/>
<circle cx="214.18" cy="340.02" r="1.5" fill="#FF00FF" stroke="#FF00FF" stroke-width="0.3"/>
<circle cx="216.76" cy="337.25" r="1.5" fill="#FF00FF" stroke="#FF00FF" stroke-width="0.3"/>
<circle cx="219.34" cy="334.71" r="1.5" fill="#FF00FF" stroke="#FF00FF" stroke-width="0.3"/>
<circle cx="221.92" cy="332.35" r="1.5" fill="#FF00FF" stroke="#FF00FF" stroke-width="0.3"/>
<circle cx="224.5" cy="330.06" r="1.5" fill="#FF00FF" stroke="#FF00FF" stroke-width="0.3"/>
<circle cx="227.08" cy="327.92" r="1.5" fill="#FF00FF" stroke="#FF00FF" stroke-width="0.3"/>
<circle cx="229.66" cy="325.96" r="1.5" fill="#FF00FF" stroke="#FF00FF" stroke-width="0.3"/>
<circle cx="232.24" cy="324.14" r="1.5" fill="#FF00FF" stroke="#FF00FF" stroke-width="0.3"/>
<circle cx="234.81" cy="322.46" r="1.5" fill="#FF00FF" stroke="#FF00FF" stroke-width="0.3"/>
<circle cx="237.39" cy="320.95" r="1.5" fill="#FF00FF" stroke="#FF00FF" stroke-width="0.3"/>
<circle cx="239.97" cy="319.62" r="1.5" fill="#FF00FF" stroke="#FF00FF" stroke-width="0.3"/>
<circle cx="242.55" cy="318.45" r="1.5" fill="#FF00FF" stroke="#FF00FF" stroke-width="0.3"/>
<circle cx="245.13" cy="317.33" r="1.5" fill="#FF00FF" stroke="#FF00FF" stroke-width="0.3"/>
<circle cx="247.71" cy="316.21" r="1.5" fill="#FF00FF" stroke="#FF00FF" stroke-width="0.3"/>
<circle cx="250.29" cy="315.19" r="1.5" fill="#FF00FF" stroke="#FF00FF" stroke-width="0.3"/>
<circle cx="252.87" cy="314.28" r="1.5" fill="#FF00FF" stroke="#FF00FF" stroke-width="0.3"/>
<circle cx="255.44" cy="313.47" r="1.5" fill="#FF00FF" stroke="#FF00FF" stroke-width="0.3"/>
<circle cx="258.02" cy="312.76" r="1.5" fill="#FF00FF" stroke="#FF00FF" stroke-width="0.3"/>
<circle cx="260.6" cy="312.13" r="1.5" fill="#FF00FF" stroke="#FF00FF" stroke-width="0.3"/>
<circle cx="263.18" cy="311.45" r="1.5" fill="#FF00FF" stroke="#FF00FF" stroke-width="0.3"/>
<circle cx="265.76" cy="310.77" r="1.5" fill="#FF00FF" stroke="#FF00FF" stroke-width="0.3"/>
<circle cx="268.34" cy="310.12" r="1.5" fill="#FF00FF" stroke="#FF00FF" stroke-width="0.3"/>
<circle cx="270.92" cy="309.52" r="1.5" fill="#FF00FF" stroke="#FF00FF" stroke-width="0.3"/>
<circle cx="273.5" cy="308.94" r="1.5" fill="#FF00FF" stroke="#FF00FF" stroke-width="0.3"/>
<circle cx="276.08" cy="308.29" r="1.5" fill="#FF00FF" stroke="#FF00FF" stroke-width="0.3"/>
<circle cx="278.65" cy="307.58" r="1.5" fill="#FF00FF" stroke="#FF00FF" stroke-width="0.3"/>
<circle cx="281.23" cy="306.88" r="1.5" fill="#FF00FF" stroke="#FF00FF" stroke-width="0.3"/>
<circle cx="283.81" cy="306.23" r="1.5" fill="#FF00FF" stroke="#FF00FF" stroke-width="0.3"/>
<circle cx="286.39" cy="305.62" r="1.5" fill="#FF00FF" stroke="#FF00FF" stroke-width="0.3"/>
<circle cx="288.97" cy="305.05" r="1.5" fill="#FF00FF" stroke="#FF00FF" stroke-width="0.3"/>
<circle cx="291.55" cy="304.53" r="1.5" fill="#FF00FF" stroke="#FF00FF" stroke-width="0.3"/>
<circle cx="294.13" cy="304.04" r="1.5" fill="#FF00FF" stroke="#FF00FF" stroke-width="0.3"/>
<circle cx="296.71" cy="303.57" r="1.5" fill="#FF00FF" stroke="#FF00FF" stroke-width="0.3"/>
<circle cx="299.28" cy="303.11" r="1.5" fill="#FF00FF" stroke="#FF00FF" stroke-width="0.3"/>
<circle cx="301.86" cy="302.65" r="1.5" fill="#FF00FF" stroke="#FF00FF" stroke-width="0.3"/>
<circle cx="304.44" cy="302.22" r="1.5" fill="#FF00FF" stroke="#FF00FF" stroke-width="0.3"/>
<circle cx="307.02" cy="301.86" r="1.5" fill="#FF00FF" stroke="#FF00FF" stroke-width="0.3"/>
<circle cx="309.6" cy="301.55" r="1.5" fill="#FF00FF" stroke="#FF00FF" stroke-width="0.3"/>
<path d="M47,256 C48.88,256.15 54.03,256.52 58.3,256.9 C62.57,257.28 67.83,257.78 72.6,258.3 C77.37,258.82 81.15,259.23 86.9,260 C92.65,260.77 100.87,261.72 107.1,262.9 C113.33,264.08 119.15,265.53 124.3,267.1 C129.45,268.67 133.72,270.58 138,272.3 C142.28,274.02 147.05,276.07 150,277.4 C152.95,278.73 153.8,279.15 155.7,280.3 C157.6,281.45 159.2,282.75 161.4,284.3 C163.6,285.85 166.63,287.78 168.9,289.6 C171.17,291.42 173.15,293.4 175,295.2 C176.85,297 178.17,298.38 180,300.4 C181.83,302.42 184.05,305 186,307.3 C187.95,309.6 190.03,311.82 191.7,314.2 C193.37,316.58 194.62,319.25 196,321.6 C197.38,323.95 198.58,325.9 200,328.3 C201.42,330.7 203.02,333.33 204.5,336 C205.98,338.67 207.43,341.67 208.9,344.3 C210.37,346.93 211.83,349.43 213.3,351.8 C214.77,354.17 216.22,356.55 217.7,358.5 C219.18,360.45 220.72,362.03 222.2,363.5 C223.68,364.97 225.27,366.38 226.6,367.3 C227.93,368.22 229.02,368.62 230.2,369 C231.38,369.38 232.53,369.55 233.7,369.6 C234.87,369.65 236.03,369.53 237.2,369.3 C238.37,369.07 239.23,369.08 240.7,368.2 C242.17,367.32 244.22,365.62 246,364 C247.78,362.38 249.68,360.38 251.4,358.5 C253.12,356.62 254.68,354.62 256.3,352.7 C257.92,350.78 259.25,349.03 261.1,347 C262.95,344.97 265.1,342.82 267.4,340.5 C269.7,338.18 272.42,335.57 274.9,333.1 C277.38,330.63 279.83,328.18 282.3,325.7 C284.77,323.22 287.23,320.68 289.7,318.2 C292.17,315.72 294.87,313.02 297.1,310.8 C299.33,308.58 301.4,306.63 303.1,304.9 C304.8,303.17 306.15,301.62 307.3,300.4 C308.45,299.18 309.55,298.07 310,297.6" fill="none" stroke="#FF0000" stroke-width="0.95"/>
<polyline points="47,371.48 47.35,371.53 47.76,371.63 48.23,371.78 48.74,371.96 49.29,372.13 49.88,372.23 50.51,372.22 51.17,372.13 51.85,371.99 52.56,371.88 53.29,371.85 54.03,371.87 54.78,371.87 55.54,371.79 56.3,371.64 57.06,371.51 57.82,371.5 58.56,371.7 59.29,372.07 60,372.51 60.7,372.9 61.42,373.15 62.14,373.25 62.87,373.24 63.61,373.2 64.35,373.21 65.1,373.26 65.86,373.3 66.61,373.24 67.38,373.08 68.14,372.85 68.9,372.69 69.67,372.69 70.44,372.86 71.2,373.11 71.97,373.31 72.73,373.35 73.49,373.23 74.25,373.02 75,372.86 75.76,372.81 76.52,372.89 77.3,373.01 78.08,373.1 78.87,373.13 79.66,373.17 80.45,373.32 81.24,373.64 82.03,374.08 82.81,374.5 83.59,374.76 84.36,374.79 85.12,374.62 85.87,374.39 86.6,374.2 87.32,374.12 88.02,374.1 88.7,374.1 89.36,374.06 90,373.96 90.61,373.86 91.18,373.78 91.72,373.77 92.24,373.84 92.73,373.97 93.21,374.14 93.67,374.32 94.12,374.47 94.56,374.58 95,374.63 95.44,374.62 95.88,374.56 96.33,374.46 96.79,374.35 97.27,374.25 97.76,374.2 98.28,374.23 98.82,374.33 99.39,374.5 100,374.69 100.64,374.86 101.3,374.98 101.98,375.04 102.68,375.11 103.4,375.25 104.13,375.46 104.88,375.7 105.64,375.84 106.41,375.78 107.19,375.51 107.97,375.1 108.76,374.73 109.55,374.51 110.34,374.48 111.13,374.56 111.92,374.64 112.7,374.66 113.48,374.65 114.24,374.7 115,374.86 115.74,375.11 116.48,375.38 117.2,375.56 117.92,375.59 118.63,375.48 119.34,375.33 120.05,375.25 120.76,375.3 121.47,375.51 122.19,375.81 122.91,376.1 123.64,376.3 124.38,376.39 125.13,376.41 125.9,376.45 126.68,376.55 127.48,376.67 128.3,376.71 129.14,376.57 130,376.27 130.9,375.94 131.83,375.83 132.81,376.08 133.81,376.56 134.84,377.01 135.88,377.3 136.95,377.54 138.02,377.9 139.11,378.34 140.19,378.59 141.27,378.56 142.34,378.48 143.39,378.66 144.43,379.13 145.45,379.62 146.43,379.87 147.39,379.87 148.3,379.8 149.17,379.8 150,379.89 150.79,379.97 151.54,379.98 152.27,379.92 152.98,379.85 153.66,379.87 154.31,380.05 154.95,380.38 155.57,380.82 156.17,381.3 156.75,381.73 157.32,382.08 157.87,382.33 158.41,382.5 158.95,382.61 159.47,382.72 159.98,382.83 160.49,382.98 161,383.15 161.5,383.32 162,383.47 162.49,383.57 162.95,383.63 163.4,383.64 163.82,383.63 164.23,383.62 164.63,383.62 165.02,383.65 165.39,383.71 165.76,383.82 166.12,383.96 166.49,384.13 166.85,384.32 167.21,384.52 167.58,384.7 167.95,384.86 168.34,384.98 168.73,385.06 169.14,385.08 169.56,385.06 170,384.99 170.46,384.91 170.95,384.84 171.45,384.82 171.97,384.85 172.5,384.93 173.04,385.05 173.59,385.17 174.14,385.27 174.7,385.34 175.25,385.4 175.8,385.48 176.34,385.62 176.86,385.83 177.38,386.12 177.88,386.46 178.35,386.8 178.81,387.11 179.23,387.37 179.63,387.56 180,387.68 180.33,387.75 180.63,387.79 180.91,387.8 181.15,387.81 181.38,387.81 181.58,387.82 181.76,387.82 181.94,387.83 182.1,387.84 182.25,387.86 182.4,387.87 182.54,387.89 182.69,387.9 182.84,387.92 183,387.93 183.17,387.94 183.35,387.95 183.55,387.95 183.76,387.96 184,387.96 184.25,387.96 184.51,387.95 184.78,387.94 185.06,387.91 185.34,387.87 185.62,387.81 185.91,387.73 186.21,387.64 186.51,387.54 186.81,387.43 187.12,387.33 187.43,387.23 187.75,387.15 188.06,387.09 188.38,387.04 188.7,387.02 189.03,387.02 189.35,387.02 189.68,387.02 190,387.01 190.33,386.97 190.67,386.91 191.02,386.8 191.38,386.64 191.75,386.43 192.12,386.19 192.5,385.92 192.87,385.63 193.25,385.36 193.62,385.11 194,384.9 194.37,384.73 194.73,384.59 195.09,384.48 195.44,384.4 195.78,384.31 196.1,384.23 196.42,384.13 196.72,384.03 197,383.9 197.27,383.77 197.53,383.63 197.78,383.48 198.02,383.32 198.26,383.16 198.48,383.01 198.7,382.85 198.91,382.7 199.12,382.55 199.31,382.4 199.5,382.26 199.69,382.11 199.87,381.96 200.04,381.38 200.21,381.16 200.38,380.94 200.54,380.72 200.69,380.49 200.85,380.25 201,380 201.15,379.75 201.28,379.51 201.41,379.27 201.54,379.02 201.65,378.78 201.77,378.54 201.87,378.29 201.97,378.03 202.07,377.77 202.16,377.5 202.25,377.22 202.34,376.93 202.42,376.62 202.51,376.3 202.59,375.97 202.67,375.62 202.75,375.24 202.83,374.85 202.92,374.44 203,374 203.08,373.54 203.16,373.04 203.24,372.53 203.32,371.98 203.39,371.42 203.46,370.84 203.53,370.24 203.59,369.63 203.66,369.01 203.73,368.38 203.79,367.73 203.85,367.09 203.92,366.44 203.98,365.79 204.05,365.14 204.12,364.5 204.18,363.86 204.25,363.23 204.33,362.61 204.4,362 204.48,361.4 204.55,360.8 204.63,360.2 204.7,359.6 204.78,359 204.85,358.4 204.93,357.8 205.01,357.2 205.08,356.6 205.16,356 205.24,355.4 205.32,354.8 205.4,354.2 205.48,353.6 205.57,353 205.65,352.4 205.74,351.8 205.82,351.2 205.91,350.6 206,350 206.09,349.4 206.19,348.79 206.28,348.18 206.38,347.57 206.48,346.95 206.58,346.34 206.69,345.72 206.79,345.1 206.9,344.49 207,343.88 207.1,343.26 207.21,342.66 207.31,342.05 207.42,341.45 207.52,340.86 207.62,340.27 207.72,339.69 207.81,339.12 207.91,338.55 208,338 208.09,337.46 208.18,336.95 208.26,336.45 208.35,335.97 208.43,335.5 208.52,335.04 208.6,334.59 208.68,334.14 208.76,333.7 208.84,333.25 208.92,332.8 208.99,332.34 209.07,331.86 209.15,331.38 209.22,330.88 209.3,330.35 209.37,329.81 209.45,329.23 209.52,328.63 209.6,328 209.67,327.33 209.75,326.63 209.82,325.9 209.89,325.14 209.97,324.35 210.04,323.55 210.11,322.72 210.18,321.89 210.25,321.04 210.32,320.19 210.39,319.33 210.46,318.47 210.53,317.62 210.59,316.77 210.66,315.93 210.73,315.1 210.8,314.29 210.86,313.51 210.93,312.74 211,312 211.07,311.28 211.13,310.55 211.19,309.83 211.26,309.12 211.32,308.41 211.38,307.71 211.43,307.01 211.49,306.32 211.55,305.64 211.61,304.97 211.67,304.31 211.73,303.66 211.8,303.02 211.86,302.4 211.93,301.79 212,301.2 212.07,300.62 212.14,300.06 212.22,299.52 212.3,299 212.38,298.5 212.47,298.03 212.56,297.57 212.65,297.14 212.75,296.73 212.84,296.33 212.94,295.95 213.04,295.58 213.14,295.22 213.24,294.88 213.35,294.53 213.45,294.2 213.56,293.87 213.66,293.54 213.77,293.21 213.88,292.88 213.98,292.55 214.09,292.2 214.19,291.86 214.3,291.5 214.4,291.14 214.51,290.77 214.61,290.41 214.71,290.05 214.82,289.69 214.92,289.33 215.02,288.88 215.13,288.51 215.23,288.14 215.34,287.77 215.44,287.4 215.55,287.04 215.66,286.67 215.77,286.32 215.89,285.96 216.01,285.61 216.12,285.27 216.25,284.93 216.37,284.6 216.5,284.28 216.63,283.96 216.76,283.65 216.88,283.35 217.01,283.06 217.14,282.77 217.26,282.49 217.39,282.22 217.52,281.95 217.66,281.68 217.79,281.42 217.94,281.16 218.08,280.91 218.23,280.65 218.39,280.4 218.56,280.14 218.73,279.89 218.91,279.63 219.1,279.36 219.29,279.09 219.5,278.82 219.72,278.53 219.95,278.23 220.18,277.92 220.43,277.6 220.69,277.27 220.95,276.93 221.22,276.59 221.5,276.25 221.78,275.92 222.06,275.59 222.35,275.26 222.64,274.94 222.94,274.63 223.23,274.33 223.53,274.03 223.83,273.73 224.12,273.43 224.42,273.13 224.71,272.83 225,272.53 225.29,272.23 225.58,271.93 225.86,271.63 226.15,271.34 226.44,271.05 226.73,270.77 227.02,270.5 227.32,270.25 227.61,270.02 227.91,269.81 228.2,269.62 228.5,269.45 228.81,269.3 229.11,269.16 229.42,269.03 229.73,268.91 230.04,268.78 230.36,268.66 230.68,268.52 231,268.37 231.33,268.21 231.66,268.05 232.01,267.88 232.35,267.71 232.7,267.54 233.06,267.38 233.42,267.23 233.78,267.09 234.14,266.96 234.5,266.84 234.86,266.72 235.22,266.6 235.58,266.47 235.94,266.33 236.3,266.18 236.65,266.01 236.99,265.83 237.34,265.64 237.67,265.45 238,265.27 238.32,265.1 238.64,264.94 238.95,264.8 239.26,264.68 239.56,264.57 239.86,264.48 240.16,264.4 240.46,264.33 240.75,264.26 241.04,264.2 241.34,264.12 241.63,264.04 241.92,263.95 242.21,263.85 242.5,263.73 242.8,263.61 243.09,263.47 243.39,263.32 243.69,263.17 244,263.01 244.3,262.86 244.6,262.71 244.89,262.58 245.18,262.44 245.46,262.32 245.74,262.2 246.02,262.08 246.31,261.97 246.59,261.85 246.88,261.72 247.18,261.59 247.48,261.46 247.79,261.31 248.11,261.15 248.44,260.98 248.78,260.81 249.14,260.64 249.51,260.48 249.89,260.33 250.3,260.21 250.71,260.13 251.12,260.07 251.53,260.04 251.94,260.02 252.35,260.01 252.77,259.99 253.2,259.95 253.64,259.89 254.09,259.81 254.56,259.69 255.04,259.56 255.55,259.42 256.07,259.3 256.63,259.19 257.21,259.09 257.82,259.01 258.46,258.9 259.13,258.74 259.85,258.54 260.6,258.32 261.4,258.14 262.24,258.04 263.13,258.02 264.06,257.99 265.03,257.84 266.03,257.53 267.05,257.18 268.1,256.9 269.17,256.72 270.26,256.55 271.36,256.34 272.47,256.18 273.59,256.19 274.7,256.33 275.82,256.4 276.92,256.26 278.02,255.97 279.1,255.72 280.16,255.56 281.2,255.42 282.24,255.2 283.31,254.94 284.4,254.75 285.5,254.69 286.62,254.64 287.74,254.42 288.87,254.05 289.99,253.71 291.11,253.55 292.22,253.52 293.31,253.47 294.38,253.38 295.43,253.33 296.45,253.37 297.44,253.42 298.38,253.36 299.29,253.15 300.14,252.84 300.95,252.55 301.7,252.33 302.4,252.2 303.06,252.11 303.69,252.04 304.27,251.94 304.83,251.83 305.35,251.71 305.84,251.6 306.3,251.5 306.73,251.41 307.13,251.36 307.51,251.31 307.86,251.28 308.19,251.26 308.5,251.23 308.79,251.2 309.07,251.17 309.32,251.13 309.56,251.09 309.79,251.04 310,250.99" fill="none" stroke="#0000FF" stroke-width="1.1" stroke-linejoin="round"/>
</g>
<rect x="46.2" y="234.3" width="264.1" height="163.7" fill="none" stroke="#000" stroke-width="1.4"/>
<path d="M62.03,398v-3 M62.03,234.3v3 M74.93,398v-5 M74.93,234.3v5 M87.82,398v-3 M87.82,234.3v3 M100.72,398v-5 M100.72,234.3v5 M113.61,398v-3 M113.61,234.3v3 M126.5,398v-5 M126.5,234.3v5 M139.4,398v-3 M139.4,234.3v3 M152.29,398v-5 M152.29,234.3v5 M165.19,398v-3 M165.19,234.3v3 M178.08,398v-5 M178.08,234.3v5 M190.97,398v-3 M190.97,234.3v3 M203.87,398v-5 M203.87,234.3v5 M216.76,398v-3 M216.76,234.3v3 M229.66,398v-5 M229.66,234.3v5 M242.55,398v-3 M242.55,234.3v3 M255.44,398v-5 M255.44,234.3v5 M268.34,398v-3 M268.34,234.3v3 M281.23,398v-5 M281.23,234.3v5 M294.13,398v-3 M294.13,234.3v3 M46.2,389.35h3 M46.2,381.24h3 M46.2,373.13h3 M46.2,365.01h3 M46.2,356.9h5 M46.2,348.79h3 M46.2,340.67h3 M46.2,332.56h3 M46.2,324.45h3 M46.2,316.33h5 M46.2,308.22h3 M46.2,300.11h3 M46.2,291.99h3 M46.2,283.88h3 M46.2,275.77h5 M46.2,267.65h3 M46.2,259.54h3 M46.2,251.43h3 M46.2,243.31h3 M310.3,390.59h-3 M310.3,383.82h-3 M310.3,377.05h-3 M310.3,370.28h-5 M310.3,363.52h-3 M310.3,356.75h-3 M310.3,349.98h-3 M310.3,343.22h-5 M310.3,336.45h-3 M310.3,329.68h-3 M310.3,322.92h-3 M310.3,316.15h-5 M310.3,309.38h-3 M310.3,302.62h-3 M310.3,295.85h-3 M310.3,289.08h-5 M310.3,282.32h-3 M310.3,275.55h-3 M310.3,268.78h-3 M310.3,262.02h-5 M310.3,255.25h-3 M310.3,248.48h-3 M310.3,241.72h-3" stroke="#000" stroke-width="1.3" fill="none"/>
<g transform="translate(42.6,402.87) scale(0.95,1)"><text font-size="16.28" text-anchor="end">11</text><path d="M-16.74,-1.77H-12.83V1.6H-16.74ZM-11.37,-1.77H-8.31V1.6H-11.37Z" fill="#fff"/><path d="M-8.9,-1.77H-4.98V1.6H-8.9ZM-3.52,-1.77H-0.47V1.6H-3.52Z" fill="#fff"/></g>
<g transform="translate(42.6,362.3) scale(0.95,1)"><text font-size="16.28" text-anchor="end">12</text><path d="M-17.95,-1.77H-14.04V1.6H-17.95ZM-12.58,-1.77H-9.52V1.6H-12.58Z" fill="#fff"/></g>
<g transform="translate(42.6,321.73) scale(0.95,1)"><text font-size="16.28" text-anchor="end">13</text><path d="M-17.95,-1.77H-14.04V1.6H-17.95ZM-12.58,-1.77H-9.52V1.6H-12.58Z" fill="#fff"/></g>
<g transform="translate(42.6,281.17) scale(0.95,1)"><text font-size="16.28" text-anchor="end">14</text><path d="M-17.95,-1.77H-14.04V1.6H-17.95ZM-12.58,-1.77H-9.52V1.6H-12.58Z" fill="#fff"/></g>
<g transform="translate(42.6,240.6) scale(0.95,1)"><text font-size="16.28" text-anchor="end">15</text><path d="M-17.95,-1.77H-14.04V1.6H-17.95ZM-12.58,-1.77H-9.52V1.6H-12.58Z" fill="#fff"/></g>
<text transform="translate(314.2,402.85) scale(0.95,1)" font-size="15.75" text-anchor="start">26</text>
<text transform="translate(314.2,375.78) scale(0.95,1)" font-size="15.75" text-anchor="start">28</text>
<text transform="translate(314.2,348.72) scale(0.95,1)" font-size="15.75" text-anchor="start">30</text>
<text transform="translate(314.2,321.65) scale(0.95,1)" font-size="15.75" text-anchor="start">32</text>
<text transform="translate(314.2,294.58) scale(0.95,1)" font-size="15.75" text-anchor="start">34</text>
<text transform="translate(314.2,267.52) scale(0.95,1)" font-size="15.75" text-anchor="start">36</text>
<text transform="translate(314.2,240.45) scale(0.95,1)" font-size="15.75" text-anchor="start">38</text>
<text transform="translate(49.44,413.3) scale(1.01,1)" font-size="14.85" text-anchor="middle">-5</text>
<text transform="translate(75.23,413.3) scale(1.01,1)" font-size="14.85" text-anchor="middle">-4</text>
<text transform="translate(101.02,413.3) scale(1.01,1)" font-size="14.85" text-anchor="middle">-3</text>
<text transform="translate(126.8,413.3) scale(1.01,1)" font-size="14.85" text-anchor="middle">-2</text>
<g transform="translate(152.59,413.3) scale(1.01,1)"><text font-size="14.85" text-anchor="middle">-1</text><path d="M-1.51,-1.66H2.06V1.6H-1.51ZM3.39,-1.66H6.17V1.6H3.39Z" fill="#fff"/></g>
<text transform="translate(178.38,413.3) scale(1.01,1)" font-size="14.85" text-anchor="middle">0</text>
<g transform="translate(204.17,413.3) scale(1.01,1)"><text font-size="14.85" text-anchor="middle">1</text><path d="M-3.98,-1.66H-0.42V1.6H-3.98ZM0.92,-1.66H3.7V1.6H0.92Z" fill="#fff"/></g>
<text transform="translate(229.96,413.3) scale(1.01,1)" font-size="14.85" text-anchor="middle">2</text>
<text transform="translate(255.75,413.3) scale(1.01,1)" font-size="14.85" text-anchor="middle">3</text>
<text transform="translate(281.53,413.3) scale(1.01,1)" font-size="14.85" text-anchor="middle">4</text>
<text transform="translate(307.32,413.3) scale(1.01,1)" font-size="14.85" text-anchor="middle">5</text>
<text transform="translate(177.1,432.6) scale(0.96,1)" font-size="20.49" text-anchor="middle">Voltage, V</text>
<text transform="translate(17.6,316.3) rotate(-90)" font-size="22.4" text-anchor="middle">Capacitance, pF</text>
<text transform="translate(334.8,316.1) rotate(90) scale(0.951,1)" font-size="20.6" text-anchor="middle">Capacitance, pF</text>
<text transform="translate(153.6,257.3) scale(1,1)" font-size="20.1" text-anchor="start">(b)</text>
<g transform="translate(247.3,383.6) scale(1,1)"><text font-size="13.4" text-anchor="start">10 kHz</text><path d="M0.13,-1.55H3.35V1.6H0.13ZM4.55,-1.55H7.07V1.6H4.55Z" fill="#fff"/></g>
<text transform="translate(69.2,302.2) scale(0.95,1)" font-size="10.4" text-anchor="start">Sample B</text>
<text transform="translate(65.2,318) scale(0.95,1)" font-size="10.19" text-anchor="start">Temperature, K</text>
<line x1="64.1" y1="325.1" x2="77.1" y2="325.1" stroke="#00FFFF" stroke-width="0.7"/>
<circle cx="70.6" cy="325.1" r="2" fill="#00FFFF" stroke="#00FFFF" stroke-width="0.4"/>
<text transform="translate(81.2,328.8) scale(0.95,1)" font-size="10.4" text-anchor="start">9, FVS</text>
<line x1="64.1" y1="335.9" x2="77.1" y2="335.9" stroke="#0000FF" stroke-width="1.0"/>
<text transform="translate(81.2,339.6) scale(0.95,1)" font-size="10.4" text-anchor="start">9, RVS</text>
<line x1="64.1" y1="346.7" x2="77.1" y2="346.7" stroke="#FF00FF" stroke-width="1.0"/>
<path d="M70.6,344.5L72.8,346.7L70.6,348.9L68.4,346.7Z" fill="#FF00FF" stroke="#FF00FF" stroke-width="0.4"/>
<text transform="translate(81.2,350.4) scale(0.95,1)" font-size="10.4" text-anchor="start">300, FVS</text>
<line x1="64.1" y1="357.5" x2="77.1" y2="357.5" stroke="#FF0000" stroke-width="0.8"/>
<text transform="translate(81.2,361.2) scale(0.95,1)" font-size="10.4" text-anchor="start">300, RVS</text>
<line x1="192.1" y1="275.3" x2="169.5" y2="275.3" stroke="#111" stroke-width="1.1"/>
<path d="M165,275.3L170,272.9L170,277.7Z" fill="#111"/>
<line x1="150" y1="306.3" x2="173.5" y2="306.3" stroke="#111" stroke-width="1.1"/>
<path d="M178,306.3L173,308.7L173,303.9Z" fill="#111"/>
</svg></body></html>
